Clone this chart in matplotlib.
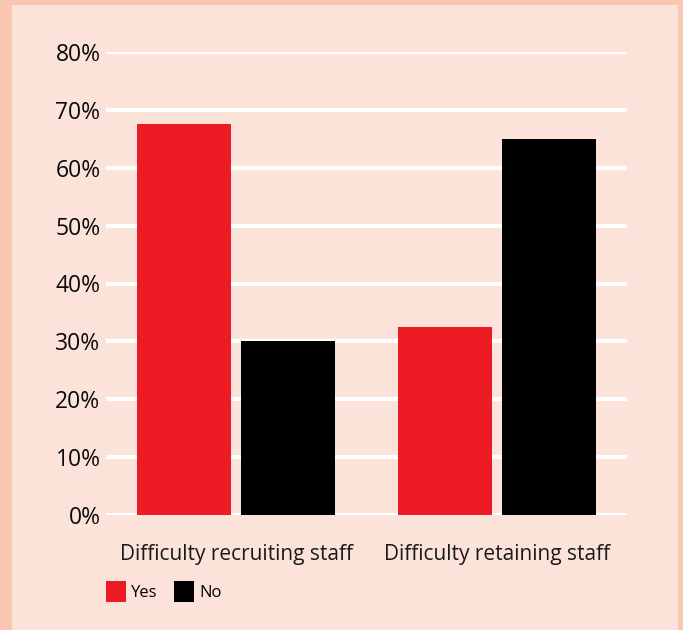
import numpy as np
import matplotlib.pyplot as plt
from matplotlib.patches import Rectangle

plt.rcParams['font.family'] = ['Open Sans', 'DejaVu Sans']

categories = ['Difficulty recruiting staff', 'Difficulty retaining staff']
yes_vals = [67.5, 32.5]
no_vals = [30, 65]
yticks = [0, 10, 20, 30, 40, 50, 60, 70, 80]

outer_bg = '#f9c6b1'
inner_bg = '#fce3da'
red = '#ed1c24'

W, H = 683, 630
fig = plt.figure(figsize=(W / 100, H / 100), dpi=100, facecolor=outer_bg)

# lighter inner panel, drawn under everything
fig.patches.append(Rectangle((12 / W, 0), (678 - 12) / W, (H - 5) / H,
                             transform=fig.transFigure, facecolor=inner_bg,
                             edgecolor='none', zorder=-10))

# axes: x from 106 to 627 px, y 0% at 515 px, 80% at 52 px
y0, y80 = 515, 52
ax = fig.add_axes([106 / W, (H - y0) / H, (627 - 106) / W, (y0 - y80) / H])
ax.set_facecolor('none')

x = np.arange(len(categories))
w = 0.36
ax.bar(x - 0.2, yes_vals, w, color=red, label='Yes', zorder=3)
ax.bar(x + 0.2, no_vals, w, color='black', label='No', zorder=3)

ax.set_xlim(-0.5, 1.5)
ax.set_ylim(0, 80)
ax.set_yticks(yticks)
ax.set_yticklabels([f'{t}%' for t in yticks], fontsize=16.5, color='#0a0a0a',
                   fontweight='medium')
ax.set_xticks(x)
ax.set_xticklabels(categories, fontsize=15, color='#1a1a1a')
ax.tick_params(axis='both', length=0)
ax.tick_params(axis='y', pad=4)
ax.tick_params(axis='x', pad=21)
ax.grid(axis='y', color='white', linewidth=3, zorder=1)
ax.set_axisbelow(True)
for s in ax.spines.values():
    s.set_visible(False)

leg = ax.legend(loc='upper left', bbox_to_anchor=(0.0, -0.143), ncol=2, frameon=False,
                fontsize=12, handlelength=1.2, handleheight=1.5, handletextpad=0.3,
                columnspacing=1.0, borderaxespad=0, borderpad=0)
for t in leg.get_texts():
    t.set_fontweight('medium')

fig.savefig('out.png', dpi=100, facecolor=outer_bg)
